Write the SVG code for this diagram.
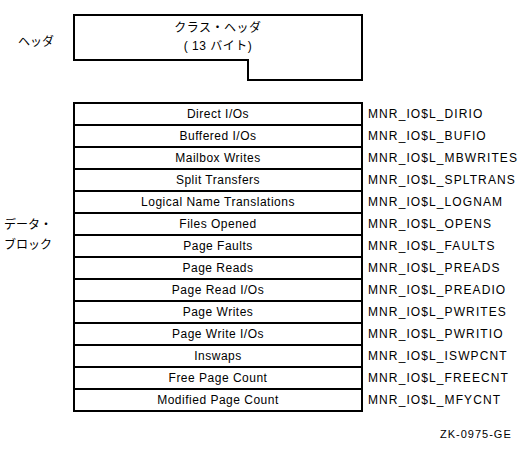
<svg xmlns="http://www.w3.org/2000/svg" width="528" height="450" viewBox="0 0 528 450">
<style>
text{font-family:"Liberation Sans","Noto Sans CJK JP",sans-serif;font-size:12px;fill:#000}
.c{text-anchor:middle;letter-spacing:0.5px}
.n{letter-spacing:1.1px}
.box{fill:#fff;stroke:#000;stroke-width:2}
.ln{stroke:#000;stroke-width:2}
</style>
<rect width="528" height="450" fill="#fff"/>
<g id="header">
<text x="18" y="46">ヘッダ</text>
<path class="box" d="M74,15 H362 V80 H248 V60 H74 Z"/>
<text class="c" x="218" y="32">クラス・ヘッダ</text>
<text class="c" x="218" y="50">( 13 バイト)</text>
</g>
<g id="datablock-label">
<text x="4" y="229">データ・</text>
<text x="4" y="249">ブロック</text>
</g>
<g id="datablock">
<rect class="box" x="74" y="103" width="288" height="308"/>
<g class="ln">
<line x1="74" y1="125" x2="362" y2="125"/>
<line x1="74" y1="147" x2="362" y2="147"/>
<line x1="74" y1="169" x2="362" y2="169"/>
<line x1="74" y1="191" x2="362" y2="191"/>
<line x1="74" y1="213" x2="362" y2="213"/>
<line x1="74" y1="235" x2="362" y2="235"/>
<line x1="74" y1="257" x2="362" y2="257"/>
<line x1="74" y1="279" x2="362" y2="279"/>
<line x1="74" y1="301" x2="362" y2="301"/>
<line x1="74" y1="323" x2="362" y2="323"/>
<line x1="74" y1="345" x2="362" y2="345"/>
<line x1="74" y1="367" x2="362" y2="367"/>
<line x1="74" y1="389" x2="362" y2="389"/>
</g>
<text class="c" x="218" y="118">Direct I/Os</text>
<text class="c" x="218" y="140">Buffered I/Os</text>
<text class="c" x="218" y="162">Mailbox Writes</text>
<text class="c" x="218" y="184">Split Transfers</text>
<text class="c" x="218" y="206">Logical Name Translations</text>
<text class="c" x="218" y="228">Files Opened</text>
<text class="c" x="218" y="250">Page Faults</text>
<text class="c" x="218" y="272">Page Reads</text>
<text class="c" x="218" y="294">Page Read I/Os</text>
<text class="c" x="218" y="316">Page Writes</text>
<text class="c" x="218" y="338">Page Write I/Os</text>
<text class="c" x="218" y="360">Inswaps</text>
<text class="c" x="218" y="382">Free Page Count</text>
<text class="c" x="218" y="404">Modified Page Count</text>
</g>
<g id="names" class="n">
<text class="n" x="368" y="118">MNR_IO$L_DIRIO</text>
<text class="n" x="368" y="140">MNR_IO$L_BUFIO</text>
<text class="n" x="368" y="162">MNR_IO$L_MBWRITES</text>
<text class="n" x="368" y="184">MNR_IO$L_SPLTRANS</text>
<text class="n" x="368" y="206">MNR_IO$L_LOGNAM</text>
<text class="n" x="368" y="228">MNR_IO$L_OPENS</text>
<text class="n" x="368" y="250">MNR_IO$L_FAULTS</text>
<text class="n" x="368" y="272">MNR_IO$L_PREADS</text>
<text class="n" x="368" y="294">MNR_IO$L_PREADIO</text>
<text class="n" x="368" y="316">MNR_IO$L_PWRITES</text>
<text class="n" x="368" y="338">MNR_IO$L_PWRITIO</text>
<text class="n" x="368" y="360">MNR_IO$L_ISWPCNT</text>
<text class="n" x="368" y="382">MNR_IO$L_FREECNT</text>
<text class="n" x="368" y="404">MNR_IO$L_MFYCNT</text>
</g>
<text x="440" y="438" style="font-size:11px;letter-spacing:1px">ZK-0975-GE</text>
</svg>
